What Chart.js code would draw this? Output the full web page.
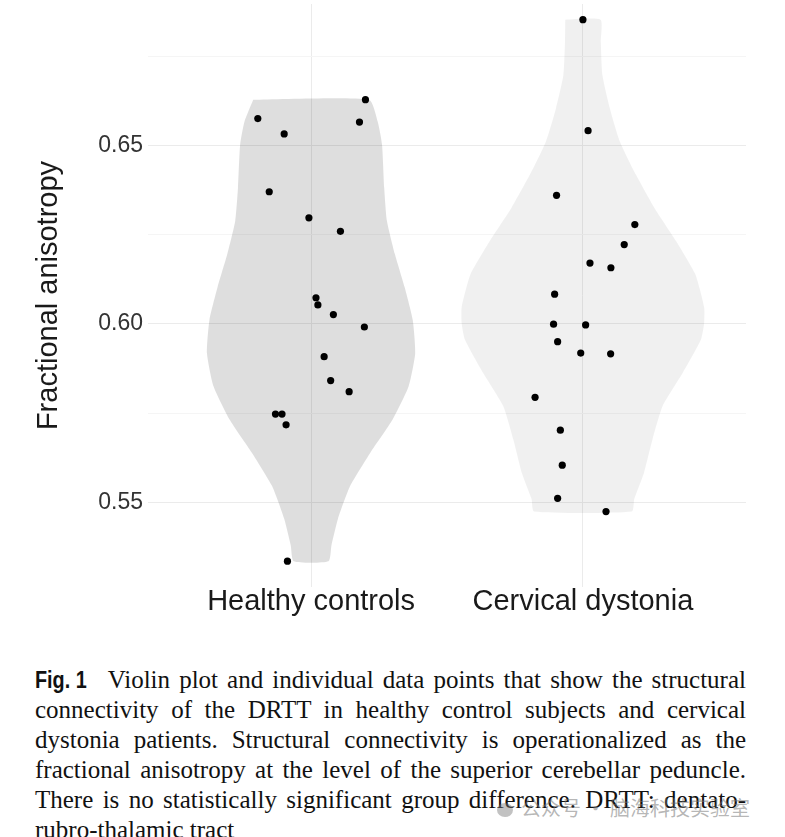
<!DOCTYPE html>
<html>
<head>
<meta charset="utf-8">
<title>Fig. 1 violin plot</title>
<script src="https://cdn.jsdelivr.net/npm/chart.js@4/dist/chart.umd.min.js"></script>
<style>
  body { margin: 0; background: #fff; }
  #wrap { position: relative; width: 785px; height: 837px; overflow: hidden; }
  #chart { position: absolute; left: 0; top: 0; }
  #caption {
    position: absolute; left: 35px; top: 665px; width: 711px;
    font-family: "Liberation Serif", "Times New Roman", serif;
    font-size: 25px; line-height: 30px; color: #111;
  }
  #caption .ln { text-align: justify; text-align-last: justify; white-space: nowrap; }
  #caption .ln.last { text-align: left; text-align-last: left; }
  #caption b {
    display: inline-block; transform: scaleX(0.86); transform-origin: 0 50%;
    font-family: "Liberation Sans", Arial, sans-serif;
    font-weight: bold; font-size: 23px; margin-right: 4px;
  }
  #mark {
    position: absolute; left: 497px; top: 793px;
    font-family: "Noto Sans CJK SC", sans-serif; font-size: 20px;
    color: rgba(120, 120, 120, 0.55); white-space: nowrap;
  }
  #mark .ico {
    display: inline-block; width: 16px; height: 14px; border-radius: 50%;
    background: rgba(120, 120, 120, 0.45); margin-right: 8px; vertical-align: -1px;
  }
</style>
</head>
<body>
<div id="wrap">
  <canvas id="chart" width="785" height="640"></canvas>
  <div id="caption">
    <div class="ln"><b>Fig. 1</b> Violin plot and individual data points that show the structural</div>
    <div class="ln">connectivity of the DRTT in healthy control subjects and cervical</div>
    <div class="ln">dystonia patients. Structural connectivity is operationalized as the</div>
    <div class="ln">fractional anisotropy at the level of the superior cerebellar peduncle.</div>
    <div class="ln">There is no statistically significant group difference. DRTT: dentato-</div>
    <div class="ln last">rubro-thalamic tract</div>
  </div>
  <div id="mark"><span class="ico"></span>公众号 · 脑海科技实验室</div>
</div>
<script>
// groups on the x axis (positions 1 and 2)
const groups = ["Healthy controls", "Cervical dystonia"];
const groupPos = [1, 2];

// y axis ticks (minor lines have no label)
const yTickValues = [0.55, 0.575, 0.60, 0.625, 0.65, 0.675];
const yTickLabels = ["0.55", "", "0.60", "", "0.65", ""];

// individual subjects: fractional anisotropy + horizontal jitter
const healthyFA = [0.6628, 0.6575, 0.6565, 0.6532, 0.6370, 0.6297, 0.6259, 0.6073, 0.6053,
  0.6026, 0.5991, 0.5908, 0.5841, 0.5810, 0.5747, 0.5747, 0.5717, 0.5335];
const healthyJitter = [0.200, -0.196, 0.178, -0.099, -0.154, -0.008, 0.108, 0.018, 0.025,
  0.082, 0.196, 0.048, 0.072, 0.140, -0.131, -0.107, -0.092, -0.087];

const dystoniaFA = [0.6852, 0.6541, 0.6360, 0.6278, 0.6222, 0.6170, 0.6157, 0.6083, 0.5999,
  0.5997, 0.5950, 0.5918, 0.5916, 0.5794, 0.5702, 0.5604, 0.5511, 0.5474];
const dystoniaJitter = [0.000, 0.019, -0.097, 0.191, 0.152, 0.026, 0.103, -0.104, -0.108,
  0.010, -0.093, -0.008, 0.102, -0.176, -0.083, -0.076, -0.093, 0.085];

// violin outlines: FA level and half width (in group units)
const healthyDensityY = [0.6628, 0.6567, 0.6502, 0.6381, 0.6289, 0.6196, 0.6103, 0.6011,
  0.5917, 0.5825, 0.5732, 0.5639, 0.5546, 0.5454, 0.5380, 0.5335];
const healthyHalfWidth = [0.213, 0.245, 0.261, 0.269, 0.279, 0.308, 0.344, 0.374,
  0.383, 0.359, 0.300, 0.218, 0.144, 0.099, 0.075, 0.064];

const dystoniaDensityY = [0.6852, 0.6789, 0.6696, 0.6604, 0.6511, 0.6418, 0.6326, 0.6233, 0.6140,
  0.6047, 0.6001, 0.5955, 0.5862, 0.5769, 0.5676, 0.5583, 0.5509, 0.5474];
const dystoniaHalfWidth = [0.065, 0.066, 0.072, 0.099, 0.136, 0.195, 0.262, 0.342, 0.413,
  0.446, 0.446, 0.434, 0.367, 0.293, 0.256, 0.225, 0.189, 0.180];

function violinOutline(center, ys, halves) {
  const pts = [];
  for (let i = 0; i < ys.length; i++) pts.push({ x: center - halves[i], y: ys[i] });
  for (let i = ys.length - 1; i >= 0; i--) pts.push({ x: center + halves[i], y: ys[i] });
  pts.push(pts[0]);
  return pts;
}

function jittered(center, values, jitter) {
  return values.map((v, i) => ({ x: center + jitter[i], y: v }));
}

function violinDataset(data, color) {
  return {
    type: "line", data: data, order: 2,
    backgroundColor: color, borderColor: "transparent", borderWidth: 0,
    fill: "shape", pointRadius: 0, tension: 0.18
  };
}

function pointDataset(data) {
  return {
    type: "scatter", data: data, order: 1,
    backgroundColor: "#000", borderWidth: 0, pointRadius: 3.6
  };
}

// no extra room for tick labels at the ends of the axes
function noEndPadding(axis) {
  axis.paddingTop = 0; axis.paddingBottom = 0;
  axis.paddingLeft = 0; axis.paddingRight = 0;
}

const ctx = document.getElementById("chart").getContext("2d");
new Chart(ctx, {
  type: "scatter",
  data: {
    datasets: [
      violinDataset(violinOutline(groupPos[0], healthyDensityY, healthyHalfWidth), "rgba(0,0,0,0.13)"),
      violinDataset(violinOutline(groupPos[1], dystoniaDensityY, dystoniaHalfWidth), "rgba(0,0,0,0.06)"),
      pointDataset(jittered(groupPos[0], healthyFA, healthyJitter)),
      pointDataset(jittered(groupPos[1], dystoniaFA, dystoniaJitter))
    ]
  },
  options: {
    responsive: false,
    animation: false,
    layout: { padding: { left: 0, right: 39, top: 0, bottom: 0 } },
    plugins: { legend: { display: false }, tooltip: { enabled: false } },
    scales: {
      x: {
        type: "linear", min: 0.4, max: 2.6,
        afterBuildTicks: (axis) => { axis.ticks = groupPos.map(v => ({ value: v })); },
        afterFit: (axis) => { axis.height = 53; noEndPadding(axis); },
        ticks: {
          autoSkip: false, padding: 0, color: "#1a1a1a",
          font: { family: "'Liberation Sans', Arial, sans-serif", size: 29, lineHeight: 1 },
          callback: (v) => groups[groupPos.indexOf(v)]
        },
        grid: { color: "#ebebeb", lineWidth: 1, drawTicks: false },
        border: { display: false }
      },
      y: {
        type: "linear", min: 0.52627, max: 0.68959,
        afterBuildTicks: (axis) => { axis.ticks = yTickValues.map(v => ({ value: v })); },
        afterFit: (axis) => { axis.width = 148; noEndPadding(axis); },
        ticks: {
          autoSkip: false, padding: 5, color: "#333",
          font: { family: "'Liberation Sans', Arial, sans-serif", size: 23 },
          callback: (v, i) => yTickLabels[i]
        },
        grid: {
          drawTicks: false,
          color: (c) => (c.tick && yTickLabels[c.index] ? "#ebebeb" : "#f5f5f5"),
          lineWidth: 1
        },
        border: { display: false },
        title: {
          display: true, text: "Fractional anisotropy", color: "#1a1a1a",
          font: { family: "'Liberation Sans', Arial, sans-serif", size: 29 },
          padding: { top: 32, bottom: 0 }
        }
      }
    }
  }
});
</script>
</body>
</html>
